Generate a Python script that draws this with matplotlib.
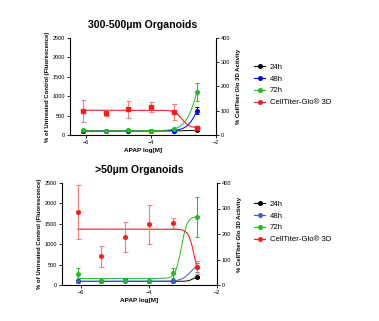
import numpy as np
import matplotlib
matplotlib.use("Agg")
import matplotlib.pyplot as plt
from matplotlib.lines import Line2D

plt.rcParams['font.family'] = ['Liberation Sans', 'DejaVu Sans']

# -------------------------
# Data: log10 APAP dose and responses
# -------------------------
log_dose = [-6.1, -5.4, -4.7, -4.0, -3.3, -2.6]

# 300-500um organoids, % of untreated control (fluorescence)
big_24h = [110, 105, 110, 105, 110, 120]
big_24h_err = [10, 8, 10, 8, 10, 12]
big_48h = [110, 108, 112, 108, 112, 630]
big_48h_err = [10, 8, 10, 8, 10, 80]
big_72h = [120, 110, 130, 110, 150, 1100]
big_72h_err = [12, 10, 15, 10, 20, 230]
# CellTiter-Glo 3D activity (%)
big_ctg = [99, 91, 106, 114, 94, 30]
big_ctg_err = [45, 13, 34, 21, 32, 5]

# >50um organoids
small_24h = [100, 100, 120, 95, 90, 200]
small_24h_err = [10, 10, 15, 10, 10, 20]
small_48h = [100, 100, 105, 100, 90, 430]
small_48h_err = [10, 10, 10, 10, 10, 110]
small_72h = [280, 110, 120, 100, 300, 1670]
small_72h_err = [130, 15, 15, 10, 120, 490]
small_ctg = [285, 112, 190, 238, 243, 69]
small_ctg_err = [106, 40, 59, 77, 21, 27]

# 4PL fit parameters: bottom, top, logEC50, hill
big_fits = {
    "24h": [105, 125, -2.8, 3],
    "48h": [105, 1500, -2.5, 2.5],
    "72h": [110, 2500, -2.52, 2.2],
    "ctg": [30, 102, -3.05, 4],
}
small_fits = {
    "24h": [90, 220, -2.7, 6],
    "48h": [90, 600, -2.75, 3],
    "72h": [160, 1680, -3.05, 5],
    "ctg": [0, 219, -2.66, 5],
}


def rising(x, p):
    b, t, ec, h = p
    return b + (t - b) / (1 + 10 ** ((ec - x) * h))


def falling(x, p):
    b, t, ec, h = p
    return b + (t - b) / (1 + 10 ** ((x - ec) * h))


def draw_panel(ax, title, series, fits, blue, xlim, ctg_marker):
    x_fit = np.linspace(log_dose[0], log_dose[-1], 300)
    ax2 = ax.twinx()
    colors = {"24h": "black", "48h": blue, "72h": "#22bb22"}
    for key, (vals, errs) in series.items():
        if key == "ctg":
            continue
        c = colors[key]
        ax.plot(x_fit, rising(x_fit, fits[key]), color=c, lw=0.7, zorder=2)
        ax.errorbar(log_dose, vals, yerr=errs, fmt="o", color=c, ms=2.6,
                    elinewidth=0.7, capsize=1.6, capthick=0.7, zorder=3)
    vals, errs = series["ctg"]
    ax2.plot(x_fit, falling(x_fit, fits["ctg"]), color="#ff2020", lw=0.8, zorder=2)
    ax2.errorbar(log_dose, vals, yerr=errs, fmt=ctg_marker, color="#ff1a1a",
                 ms=2.6, ecolor="#ff7a7a", elinewidth=0.8, capsize=1.8,
                 capthick=0.8, zorder=3)

    ax.set_xlim(*xlim)
    ax.set_ylim(0, 2500)
    ax2.set_ylim(0, 400)
    ax.set_xticks([-6, -4, -2])
    ax.set_yticks(range(0, 2501, 500))
    ax2.set_yticks(range(0, 401, 100))
    for a in (ax, ax2):
        a.spines["top"].set_visible(False)
        for s in a.spines.values():
            s.set_linewidth(0.8)
        a.tick_params(labelsize=4, length=2, width=0.6, pad=1.5)
    ax.spines["right"].set_visible(False)
    ax2.spines["left"].set_visible(False)
    ax2.spines["bottom"].set_visible(False)

    ax.set_title(title, fontsize=7.6, fontweight="bold", pad=7)
    ax.set_xlabel("APAP log[M]", fontsize=4.6, fontweight="bold", labelpad=2.5)
    ax.set_ylabel("% of Untreated Control (Fluorescence)", fontsize=4.3,
                  fontweight="bold", labelpad=2)
    ax2.set_ylabel("% CellTiter Glo 3D Activity", fontsize=4.3,
                   fontweight="bold", rotation=90, labelpad=4)
    return ax2


fig = plt.figure(figsize=(3.79, 3.21), dpi=100)

ax_top = fig.add_axes([70 / 379, 1 - 135 / 321, 146 / 379, 97 / 321])
draw_panel(ax_top, "300-500µm Organoids",
           {"24h": (big_24h, big_24h_err), "48h": (big_48h, big_48h_err),
            "72h": (big_72h, big_72h_err), "ctg": (big_ctg, big_ctg_err)},
           big_fits, "#0000ff", (-6.5, -2), "s")

ax_bot = fig.add_axes([62 / 379, 1 - 285 / 321, 155 / 379, 102 / 321])
draw_panel(ax_bot, ">50µm Organoids",
           {"24h": (small_24h, small_24h_err), "48h": (small_48h, small_48h_err),
            "72h": (small_72h, small_72h_err), "ctg": (small_ctg, small_ctg_err)},
           small_fits, "#3f5fbf", (-6.56, -2), "o")

# -------------------------
# Legends
# -------------------------
labels = ["24h", "48h", "72h", "CellTiter-Glo® 3D"]


def legend_at(y_px, blue):
    cols = ["black", blue, "#22bb22", "#ff1a1a"]
    handles = [Line2D([], [], color=c, marker="o", ms=2.6, lw=0.8) for c in cols]
    fig.legend(handles, labels, loc="upper left",
               bbox_to_anchor=(251 / 379, 1 - y_px / 321), frameon=False,
               fontsize=5.6, handlelength=1.4, handletextpad=0.6,
               labelspacing=0.58, borderaxespad=0)


legend_at(60, "#0000ff")
legend_at(197, "#3f5fbf")

fig.savefig("out.png", dpi=100)
